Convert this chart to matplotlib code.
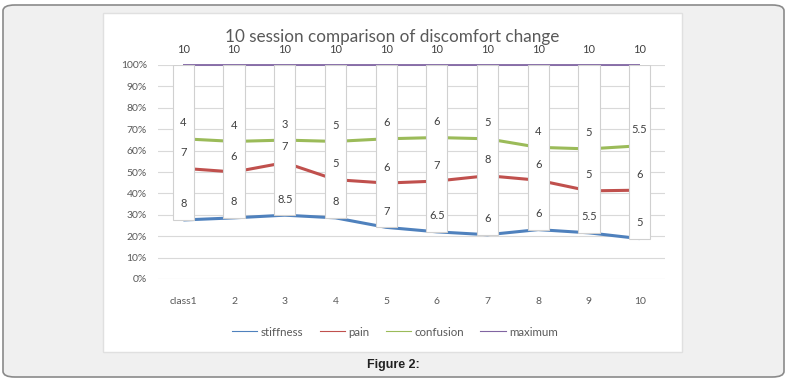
import numpy as np
import matplotlib
matplotlib.use("Agg")
import matplotlib.pyplot as plt
from matplotlib.patches import FancyBboxPatch, Rectangle
from matplotlib.ticker import PercentFormatter

# data (raw scores per session)
classes = ["class1", "2", "3", "4", "5", "6", "7", "8", "9", "10"]
stiffness = [8, 8, 8.5, 8, 7, 6.5, 6, 6, 5.5, 5]
pain = [7, 6, 7, 5, 6, 7, 8, 6, 5, 6]
confusion = [4, 4, 3, 5, 6, 6, 5, 4, 5, 5.5]
maximum = [10, 10, 10, 10, 10, 10, 10, 10, 10, 10]

series_names = ["stiffness", "pain", "confusion", "maximum"]
series_colors = ["#4F81BD", "#C0504D", "#9BBB59", "#8064A2"]

plt.rcParams["font.family"] = ["Lato", "DejaVu Sans"]
text_col = "#404040"
axis_col = "#595959"

# 100% stacked line chart
raw = np.array([stiffness, pain, confusion, maximum], dtype=float)
totals = raw.sum(axis=0)
cum = np.cumsum(raw, axis=0) / totals

fig = plt.figure(figsize=(7.88, 3.82), dpi=100)
fig.patch.set_facecolor("white")

# outer page frame and white chart panel
frame = FancyBboxPatch((3 / 788, 5 / 382), 781 / 788, 372 / 382,
                       boxstyle="round,pad=0,rounding_size=0.015",
                       transform=fig.transFigure, facecolor="#f0f0f0",
                       edgecolor="#8a8a8a", linewidth=1.2, zorder=-2)
fig.patches.append(frame)
panel = Rectangle((103 / 788, 1 - 352 / 382), 579 / 788, 339 / 382,
                  transform=fig.transFigure, facecolor="white",
                  edgecolor="#e0e0e0", linewidth=1.0, zorder=-1)
fig.patches.append(panel)

ax = fig.add_axes([158 / 788, 1 - 279 / 382, 507 / 788, 214 / 382])
ax.set_facecolor("none")
ax.set_zorder(2)
x = np.arange(len(classes))

for i, name in enumerate(series_names):
    lw = 1.3 if name == "maximum" else 2.2
    ax.plot(x, cum[i], color=series_colors[i], lw=lw, zorder=2,
            clip_on=False, solid_capstyle="butt")

# up/down bars (white) from first series to last series
ax.bar(x, cum[-1] - cum[0], bottom=cum[0], width=0.42, color="white",
       edgecolor="#d0d0d0", linewidth=0.8, zorder=3)

# data labels above each point
for i in range(len(series_names)):
    for j in range(len(classes)):
        txt = f"{raw[i, j]:g}"
        ax.annotate(txt, (x[j], cum[i, j]), xytext=(0, 11.5),
                    textcoords="offset points", ha="center", va="center",
                    fontsize=8, color=text_col, zorder=5,
                    annotation_clip=False)

ax.set_xlim(-0.5, len(classes) - 0.5)
ax.set_ylim(0, 1)
ax.set_yticks(np.arange(0, 1.01, 0.1))
ax.yaxis.set_major_formatter(PercentFormatter(1.0, decimals=0))
ax.set_xticks(x)
ax.set_xticklabels(classes)
ax.tick_params(axis="both", length=0, labelsize=7.5, labelcolor=axis_col)
ax.tick_params(axis="x", pad=13)
ax.tick_params(axis="y", pad=8)
ax.grid(axis="y", color="#d9d9d9", lw=0.8, zorder=0)
ax.set_axisbelow(True)
for s in ax.spines.values():
    s.set_visible(False)

fig.text(392 / 788, 1 - 37 / 382, "10 session comparison of discomfort change",
         ha="center", va="center", fontsize=12.3, color=axis_col)

leg_handles = [plt.Line2D([], [], color=c, lw=0.8) for c in series_colors]
fig.legend(leg_handles, series_names, loc="center",
           bbox_to_anchor=(395 / 788, 1 - 332 / 382), ncol=4, frameon=False,
           fontsize=8.3, labelcolor=axis_col, handlelength=2.2,
           handletextpad=0.3, columnspacing=1.4)

fig.text(393 / 788, 1 - 365 / 382, "Figure 2:", ha="center", va="center",
         fontsize=9, fontweight="bold", color="#222222",
         family=["Liberation Sans", "DejaVu Sans"])

fig.savefig("out.png", dpi=100)
